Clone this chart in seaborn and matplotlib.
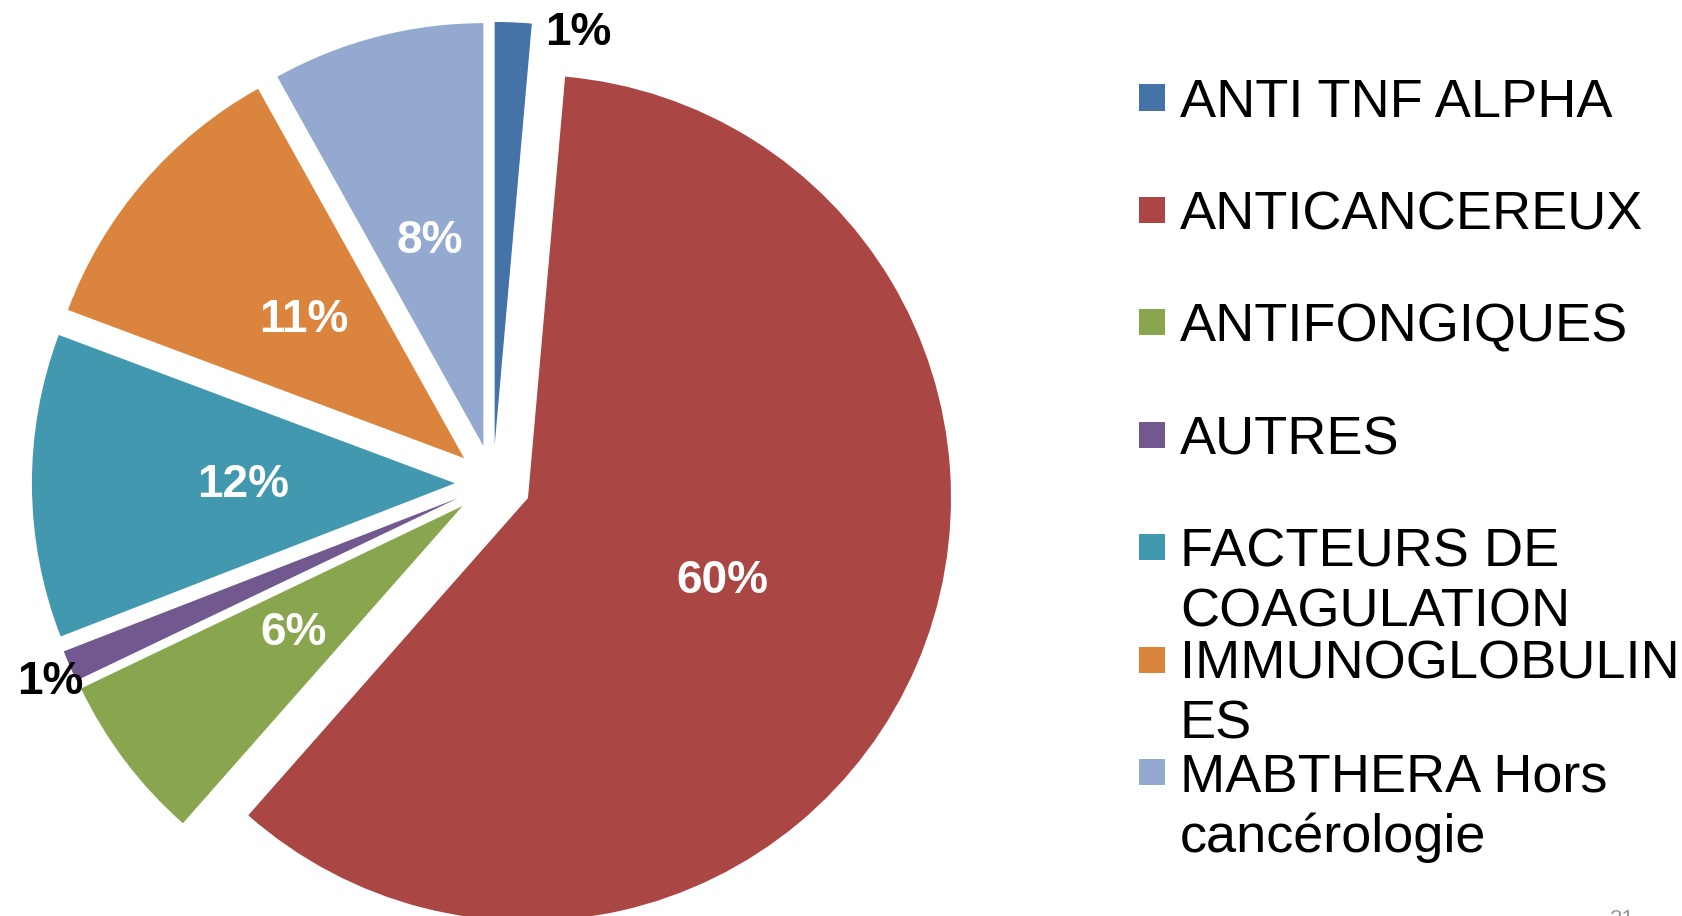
import matplotlib
matplotlib.use("Agg")
import matplotlib.pyplot as plt
import seaborn as sns
from matplotlib.patches import Rectangle

# Data (clockwise from 12 o'clock)
categories = ["ANTI TNF ALPHA", "ANTICANCEREUX", "ANTIFONGIQUES", "AUTRES",
              "FACTEURS DE\nCOAGULATION", "IMMUNOGLOBULIN\nES",
              "MABTHERA Hors\ncancérologie"]
shares = [1.4, 60.1, 6.4, 1.2, 11.6, 11.2, 8.1]
colors = ["#4572A7", "#AA4643", "#89A54E", "#71588F", "#4198AF", "#DB843D", "#93A9CF"]

sns.set_theme(style="white")
plt.rcParams["font.family"] = ["Liberation Sans", "DejaVu Sans"]

W, H = 1683, 916
fig = plt.figure(figsize=(W / 100, H / 100), dpi=100)
ax = fig.add_axes([0, 0, 1, 1])

palette = sns.color_palette(colors)
outer = [f"{v:.0f}%" if v < 2 else "" for v in shares]

wedges, texts, autotexts = ax.pie(
    shares, colors=palette, startangle=90, counterclock=False,
    explode=[0.09] * len(shares), labels=outer, labeldistance=1.0,
    autopct=lambda p: "" if p < 2 else f"{p:.0f}%", pctdistance=0.5,
    wedgeprops=dict(linewidth=0),
    textprops=dict(fontsize=33, fontweight="bold"))

for t in autotexts:
    t.set_color("white")

# small outside labels: Excel pushes them a bit off the bisector
nudge = {0: (0.076, -0.026), 3: (0.033, -0.038)}
for i, t in enumerate(texts):
    t.set_color("black")
    t.set_va("center")
    if i in nudge:
        x, y = t.get_position()
        t.set_position((x + nudge[i][0], y + nudge[i][1]))

# pie centre sits at (493, 483) px with a 423 px radius
cx, cy, r = 493, 483, 423
ax.set_xlim(-cx / r, (W - cx) / r)
ax.set_ylim(-(H - cy) / r, cy / r)
ax.set_aspect("equal")
ax.axis("off")

# legend, Excel-style fixed row spacing
box = 26
row0, step = 97.5, 112.4
for i, (name, col) in enumerate(zip(categories, palette)):
    yc = row0 + i * step
    fig.add_artist(Rectangle((1139 / W, 1 - (yc + box / 2) / H), box / W, box / H,
                             transform=fig.transFigure, color=col, lw=0))
    fig.text(1180 / W, 1 - (yc - 19.7) / H, name, fontsize=39, va="top", ha="left",
             linespacing=1.25, color="black")

# page number, mostly cut off at the bottom edge as in the slide
fig.text(1610 / W, 1 - 909 / H, "21", fontsize=16, color="#999999", va="top")

fig.savefig("out.png", dpi=100)
